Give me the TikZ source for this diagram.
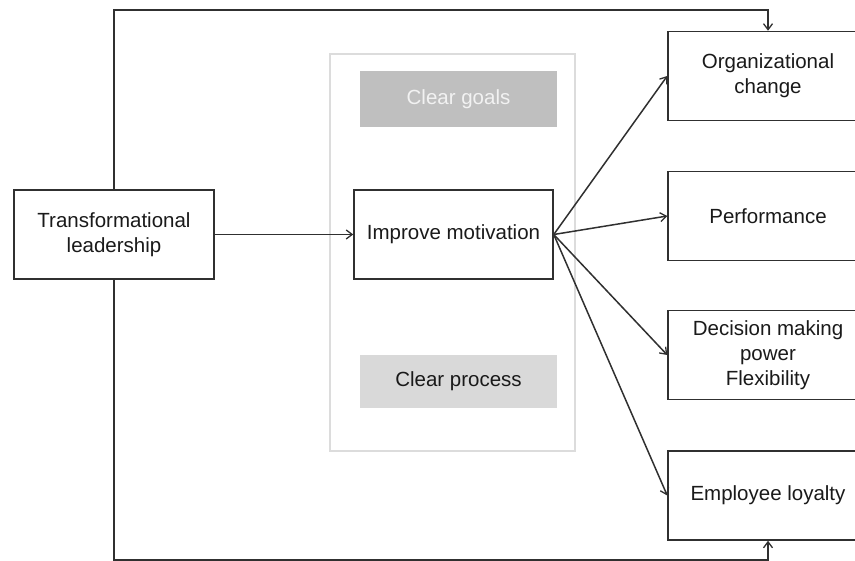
\documentclass[tikz,border=0pt]{standalone}
\usepackage{fontspec}
\setmainfont{Liberation Sans}
\usetikzlibrary{arrows.meta}
\definecolor{linec}{HTML}{303030}
\definecolor{framec}{HTML}{DCDCDC}
\definecolor{goalfill}{HTML}{BFBFBF}
\definecolor{goaltext}{HTML}{F2F2F2}
\definecolor{procfill}{HTML}{D9D9D9}
\definecolor{textc}{HTML}{1A1A1A}
\tikzset{
  box/.style={draw=linec, line width=1.5pt, fill=white, minimum width=200pt, minimum height=89pt, inner sep=0pt, align=center, text=textc, font=\fontsize{20.5}{25}\selectfont},
  graybox/.style={draw=none, minimum width=197pt, minimum height=56pt, inner sep=0pt, align=center, font=\fontsize{20.5}{25}\selectfont},
  arr/.style={draw=linec, line width=1.5pt, -{Straight Barb[length=6pt,width=9pt,line width=1.3pt]}},
  conn/.style={draw=linec, line width=1.5pt}
}
\begin{document}
\begin{tikzpicture}[x=1pt,y=-1pt]
\useasboundingbox (0,0) rectangle (855,561);
\clip (0,0) rectangle (855,561);
% container
\node[draw=framec, line width=1.2pt, minimum width=245pt, minimum height=397pt, inner sep=0pt] (cont) at (452.5,252.5) {};
\node[graybox, fill=goalfill, text=goaltext] (goals) at (458.5,99.5) {Clear goals};
\node[graybox, fill=procfill, text=textc, minimum height=53pt] (proc) at (458.5,381.5) {Clear process};
% main boxes
\node[box] (tl) at (114,234.5) {Transformational\\leadership};
\node[box, minimum width=199pt] (im) at (453.5,234.5) {Improve motivation};
\node[box] (oc) at (768,76) {Organizational\\change};
\node[box] (pf) at (768,216) {Performance};
\node[box] (dm) at (768,355) {Decision making\\power\\Flexibility};
\node[box] (el) at (768,495.5) {Employee loyalty};
% coordinates for the outer loop
\coordinate (top) at (114,10);
\coordinate (bot) at (114,560);
% connectors
\draw[arr] (tl.east) -- (im.west);
\draw[arr] (tl.north) -- (top) -| (oc.north);
\draw[arr] (tl.south) -- (bot) -| (el.south);
\draw[arr] (im.east) -- (oc.west);
\draw[arr] (im.east) -- (pf.west);
\draw[arr] (im.east) -- (dm.west);
\draw[arr] (im.east) -- (el.west);
\end{tikzpicture}
\end{document}
